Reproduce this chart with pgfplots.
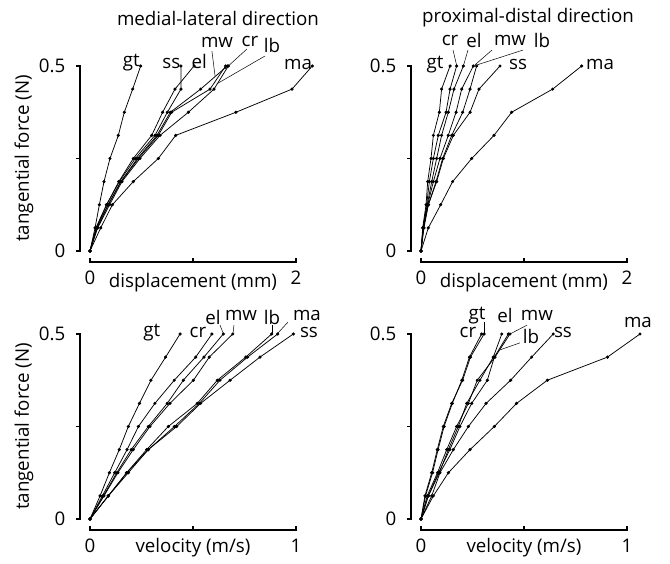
\documentclass[border=0pt]{standalone}
\usepackage{fontspec}
\setmainfont{Open Sans}
\usepackage{pgfplots}
\usepackage{pgfplotstable}
\pgfplotsset{compat=1.18}

\newcommand\ff{\fontsize{18.8}{21}\selectfont}

% force levels (N) against displacement (mm) / velocity (m/s)
\pgfplotstableread{
f      gt    ss    el    mw    cr    lb    ma
0      0     0     0     0     0     0     0
0.0625 0.049 0.060 0.058 0.065 0.070 0.075 0.104
0.125  0.091 0.160 0.162 0.175 0.178 0.190 0.217
0.1875 0.136 0.285 0.280 0.300 0.300 0.310 0.420
0.25   0.194 0.440 0.420 0.470 0.460 0.485 0.663
0.3125 0.275 0.631 0.599 0.663 0.650 0.680 0.832
0.375  0.333 0.751 0.705 0.793 0.780 0.955 1.417
0.4375 0.414 0.883 0.825 1.165 1.074 1.204 1.961
0.5    0.492 0.883 1.010 1.317 1.333 1.343 2.158
}\dispML

\pgfplotstableread{
f      gt    cr    el    mw    lb    ss    ma
0      0     0     0     0     0     0     0
0.0625 0.016 0.020 0.022 0.025 0.023 0.029 0.071
0.125  0.049 0.055 0.060 0.065 0.071 0.071 0.191
0.1875 0.065 0.081 0.104 0.120 0.146 0.152 0.307
0.25   0.097 0.120 0.152 0.184 0.210 0.217 0.492
0.3125 0.120 0.168 0.200 0.265 0.298 0.314 0.709
0.375  0.178 0.243 0.265 0.340 0.405 0.476 0.880
0.4375 0.200 0.282 0.320 0.395 0.476 0.563 1.278
0.5    0.282 0.346 0.411 0.508 0.540 0.767 1.560
}\dispPD

\pgfplotstableread{
f      gt    cr    el    mw    lb    ma    ss
0      0     0     0     0     0     0     0
0.0625 0.049 0.060 0.065 0.068 0.089 0.089 0.089
0.125  0.094 0.120 0.130 0.135 0.178 0.186 0.178
0.1875 0.142 0.180 0.200 0.210 0.275 0.283 0.283
0.25   0.186 0.235 0.283 0.291 0.380 0.410 0.421
0.3125 0.240 0.315 0.375 0.388 0.521 0.531 0.537
0.375  0.296 0.409 0.453 0.502 0.618 0.631 0.680
0.4375 0.367 0.513 0.553 0.579 0.756 0.765 0.825
0.5    0.437 0.592 0.647 0.693 0.882 0.911 0.987
}\velML

\pgfplotstableread{
f      gt    cr    el    mw    lb    ss    ma
0      0     0     0     0     0     0     0
0.0625 0.019 0.022 0.036 0.030 0.035 0.052 0.060
0.125  0.052 0.056 0.089 0.080 0.085 0.092 0.133
0.1875 0.079 0.083 0.133 0.125 0.140 0.157 0.238
0.25   0.108 0.112 0.181 0.173 0.189 0.230 0.356
0.3125 0.149 0.152 0.222 0.230 0.246 0.316 0.464
0.375  0.202 0.198 0.286 0.273 0.322 0.435 0.613
0.4375 0.240 0.235 0.351 0.359 0.356 0.537 0.905
0.5    0.306 0.294 0.392 0.432 0.424 0.642 1.063
}\velPD

\pgfplotsset{
  panel/.style={
    scale only axis, width=206bp, height=185bp,
    ymin=0, ymax=0.5, enlargelimits=false, clip=false,
    axis lines=left,
    axis line style={draw=none},
    major tick style={draw=none},
    ytick={0,0.25,0.5}, yticklabels={0,,0.5},
    every tick label/.append style={font=\ff},
    yticklabel style={xshift=-19bp},
    xticklabel style={yshift=-14bp},
    xlabel style={font=\ff, at={(axis description cs:0.5,0)}, anchor=center},
    ylabel style={font=\ff, at={([xshift=-66bp]axis description cs:0,0.5)}, anchor=center},
  },
  disp/.style={panel, xmin=0, xmax=2, xtick={0,1,2}, xticklabels={0,,2},
    xlabel={displacement (mm)}, xlabel style={yshift=-32bp}},
  vel/.style={panel, xmin=0, xmax=1, xtick={0,0.5,1}, xticklabels={0,,1},
    xlabel={velocity (m/s)}, xlabel style={yshift=-29bp}},
  ln/.style={black, line width=0.75bp, mark=*, mark size=1.2bp},
  axl/.style={black, line width=1.2bp, mark=none, forget plot},
}

% detached axis lines: #1 xmax, #2 middle x tick, #3 x of y-axis line, #4 x of y-tick ends
\newcommand\axframe[4]{%
  \addplot[axl] coordinates {(#4,0.5) (#3,0.5) (#3,0) (#4,0)};
  \addplot[axl] coordinates {(#4,0.25) (#3,0.25)};
  \addplot[axl] coordinates {(0,-0.0189) (0,-0.0297) (#1,-0.0297) (#1,-0.0189)};
  \addplot[axl] coordinates {(#2,-0.0297) (#2,-0.0189)};
}

\begin{document}
\begin{tikzpicture}
\useasboundingbox (0,0) rectangle (670bp,564bp);

\node[font=\ff] at (218bp,546bp) {medial-lateral direction};
\node[font=\ff] at (528bp,546bp) {proximal-distal direction};

% top left
\begin{axis}[disp, at={(90bp,313bp)}, anchor=origin, ylabel={tangential force (N)}]
\axframe{2}{1}{-0.0971}{-0.1359}
\foreach \s in {gt,ss,el,mw,cr,lb,ma}{
  \addplot[ln] table[x=\s, y=f] {\dispML};
}
\node[font=\ff] at (axis cs:0.40,0.508) {gt};
\node[font=\ff] at (axis cs:0.79,0.508) {ss};
\node[font=\ff] at (axis cs:1.06,0.513) {el};
\node[font=\ff] at (axis cs:2.02,0.503) {ma};
\node[font=\ff] at (axis cs:1.233,0.565) {mw};
\node[font=\ff] at (axis cs:1.553,0.567) {cr};
\node[font=\ff] at (axis cs:1.767,0.556) {lb};
\draw[line width=0.5bp] (axis cs:1.184,0.540) -- (axis cs:1.214,0.473);
\draw[line width=0.5bp] (axis cs:1.524,0.546) -- (axis cs:1.311,0.492);
\draw[line width=0.5bp] (axis cs:1.699,0.527) -- (axis cs:1.233,0.452);
\end{axis}

% top right
\begin{axis}[disp, at={(421bp,313bp)}, anchor=origin]
\axframe{2}{1}{-0.0971}{-0.1359}
\foreach \s in {gt,cr,el,mw,lb,ss,ma}{
  \addplot[ln] table[x=\s, y=f] {\dispPD};
}
\node[font=\ff] at (axis cs:0.136,0.503) {gt};
\node[font=\ff] at (axis cs:0.942,0.503) {ss};
\node[font=\ff] at (axis cs:1.738,0.503) {ma};
\node[font=\ff] at (axis cs:0.282,0.570) {cr};
\node[font=\ff] at (axis cs:0.515,0.570) {el};
\node[font=\ff] at (axis cs:0.864,0.570) {mw};
\node[font=\ff] at (axis cs:1.175,0.570) {lb};
\draw[line width=0.5bp] (axis cs:0.311,0.543) -- (axis cs:0.35,0.497);
\draw[line width=0.5bp] (axis cs:0.456,0.543) -- (axis cs:0.408,0.497);
\draw[line width=0.5bp] (axis cs:0.689,0.543) -- (axis cs:0.524,0.503);
\draw[line width=0.5bp] (axis cs:0.99,0.543) -- (axis cs:0.544,0.503);
\end{axis}

% bottom left
\begin{axis}[vel, at={(90bp,45bp)}, anchor=origin, ylabel={tangential force (N)}]
\axframe{1}{0.5}{-0.0485}{-0.0680}
\foreach \s in {gt,cr,el,mw,lb,ma,ss}{
  \addplot[ln] table[x=\s, y=f] {\velML};
}
\node[font=\ff] at (axis cs:0.30,0.503) {gt};
\node[font=\ff] at (axis cs:0.524,0.503) {cr};
\node[font=\ff] at (axis cs:0.597,0.546) {el};
\node[font=\ff] at (axis cs:0.733,0.551) {mw};
\node[font=\ff] at (axis cs:0.883,0.546) {lb};
\node[font=\ff] at (axis cs:1.053,0.551) {ma};
\node[font=\ff] at (axis cs:1.063,0.503) {ss};
\draw[line width=0.5bp] (axis cs:0.631,0.524) -- (axis cs:0.646,0.503);
\draw[line width=0.5bp] (axis cs:0.699,0.524) -- (axis cs:0.694,0.5);
\draw[line width=0.5bp] (axis cs:0.883,0.524) -- (axis cs:0.883,0.503);
\draw[line width=0.5bp] (axis cs:0.961,0.532) -- (axis cs:0.913,0.503);
\end{axis}

% bottom right
\begin{axis}[vel, at={(421bp,45bp)}, anchor=origin]
\axframe{1}{0.5}{-0.0485}{-0.0680}
\foreach \s in {gt,cr,el,mw,lb,ss,ma}{
  \addplot[ln] table[x=\s, y=f] {\velPD};
}
\node[font=\ff] at (axis cs:0.272,0.551) {gt};
\node[font=\ff] at (axis cs:0.228,0.505) {cr};
\node[font=\ff] at (axis cs:0.408,0.551) {el};
\node[font=\ff] at (axis cs:0.563,0.551) {mw};
\node[font=\ff] at (axis cs:0.534,0.492) {lb};
\node[font=\ff] at (axis cs:0.689,0.503) {ss};
\node[font=\ff] at (axis cs:1.053,0.532) {ma};
\draw[line width=0.5bp] (axis cs:0.306,0.532) -- (axis cs:0.306,0.5);
\draw[line width=0.5bp] (axis cs:0.515,0.524) -- (axis cs:0.432,0.5);
\draw[line width=0.5bp] (axis cs:0.48,0.476) -- (axis cs:0.383,0.457);
\end{axis}
\end{tikzpicture}
\end{document}
